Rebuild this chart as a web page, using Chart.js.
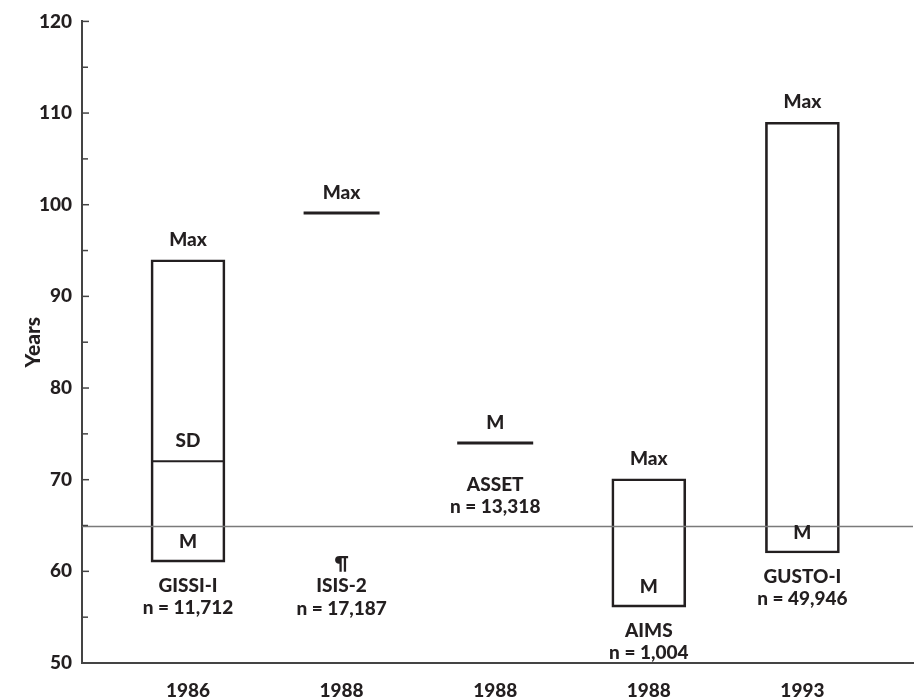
<!DOCTYPE html>
<html>
<head>
<meta charset="utf-8">
<script src="https://cdn.jsdelivr.net/npm/chart.js@4/dist/chart.umd.min.js"></script>
<style>
  body { margin: 0; background: #fff; }
  #wrap { width: 916px; height: 699px; }
</style>
</head>
<body>
<div id="wrap"><canvas id="ageChart"></canvas></div>
<script>
// Trial data
const years = ['1986', '1988', '1988', '1988', '1993'];
const trials = ['GISSI-I', 'ISIS-2', 'ASSET', 'AIMS', 'GUSTO-I'];
const sizes = ['n = 11,712', 'n = 17,187', 'n = 13,318', 'n = 1,004', 'n = 49,946'];
const notes = ['', '¶', '', '', ''];
const maxAge = [94.0, 99.1, null, 70.1, 109.0];   // "Max"
const lowAge = [61.0, null, 74.0, 56.1, 62.0];     // "M"
const sdAge = [72.0, null, null, null, null];      // "SD"
const refAge = 64.9;
const yTicks = [50, 60, 70, 80, 90, 100, 110, 120];

const ink = '#231f20';
const font = 'Lato, "DejaVu Sans", sans-serif';
const weight = 900;

// boxes where both ends are known, plain lines where only one is
const boxes = [];
const lines = [];
years.forEach((_, i) => {
  if (maxAge[i] != null && lowAge[i] != null) {
    boxes.push({ x: i, y: [lowAge[i], maxAge[i]] });
  } else if (maxAge[i] != null) {
    lines.push({ x: i, y: maxAge[i] });
  } else if (lowAge[i] != null) {
    lines.push({ x: i, y: lowAge[i] });
  }
});
const sdLines = [];
sdAge.forEach((v, i) => { if (v != null) sdLines.push({ x: i, y: v }); });

// reference line, inward tick marks and the text labels
const extras = {
  id: 'extras',
  afterDatasetsDraw(chart) {
    const { ctx, chartArea, scales: { x, y } } = chart;
    ctx.save();

    ctx.strokeStyle = '#7a7a7a';
    ctx.lineWidth = 1.5;
    const ry = y.getPixelForValue(refAge);
    ctx.beginPath();
    ctx.moveTo(chartArea.left, ry);
    ctx.lineTo(chartArea.right, ry);
    ctx.stroke();

    ctx.strokeStyle = '#444';
    ctx.lineWidth = 1.5;
    y.ticks.forEach(t => {
      const py = y.getPixelForValue(t.value);
      const len = t.value % 10 === 0 ? 7 : 6;
      ctx.beginPath();
      ctx.moveTo(chartArea.left, py);
      ctx.lineTo(chartArea.left + len, py);
      ctx.stroke();
    });

    ctx.fillStyle = ink;
    ctx.font = weight + ' 19px ' + font;
    ctx.textAlign = 'center';
    ctx.textBaseline = 'middle';
    years.forEach((_, i) => {
      const cx = x.getPixelForValue(i);
      if (maxAge[i] != null) {
        ctx.fillText('Max', cx, y.getPixelForValue(maxAge[i]) - 20);
      }
      if (sdAge[i] != null) {
        ctx.fillText('SD', cx, y.getPixelForValue(sdAge[i]) - 20);
      }
      if (lowAge[i] != null) {
        const py = y.getPixelForValue(lowAge[i]);
        ctx.fillText('M', cx, py - 20);
        const gap = maxAge[i] != null ? 24 : 42;
        ctx.fillText(trials[i], cx, py + gap);
        ctx.fillText(sizes[i], cx, py + gap + 22);
      } else {
        ctx.fillText(notes[i], cx, ry + 37);
        ctx.fillText(trials[i], cx, ry + 59);
        ctx.fillText(sizes[i], cx, ry + 82);
      }
    });
    ctx.restore();
  }
};

new Chart(document.getElementById('ageChart'), {
  type: 'bar',
  data: {
    datasets: [
      {
        data: boxes,
        backgroundColor: 'rgba(0,0,0,0)',
        borderColor: ink,
        borderWidth: 2,
        borderSkipped: false,
        barThickness: 74
      },
      {
        type: 'scatter',
        data: lines,
        pointStyle: 'line',
        radius: 38,
        borderWidth: 3,
        borderColor: ink,
        clip: false
      },
      {
        type: 'scatter',
        data: sdLines,
        pointStyle: 'line',
        radius: 36.5,
        borderWidth: 2,
        borderColor: ink,
        clip: false
      }
    ]
  },
  options: {
    responsive: true,
    maintainAspectRatio: false,
    animation: false,
    layout: { autoPadding: false, padding: { top: 16, right: 3, left: 0, bottom: 0 } },
    plugins: { legend: { display: false }, tooltip: { enabled: false } },
    scales: {
      x: {
        type: 'linear',
        offset: false,
        min: -0.69,
        max: 4.72,
        afterBuildTicks: scale => { scale.ticks = years.map((_, i) => ({ value: i })); },
        afterFit: scale => { scale.height = 36; },
        grid: { display: true, offset: false, drawOnChartArea: false, drawTicks: false },
        border: { display: true, color: '#444', width: 2 },
        ticks: {
          padding: 16,
          color: ink,
          font: { family: font, size: 19, weight: weight },
          callback: (v, i) => years[i]
        }
      },
      y: {
        min: 50,
        max: 120,
        afterBuildTicks: scale => {
          const all = [];
          yTicks.forEach(v => { all.push({ value: v }); if (v < 120) all.push({ value: v + 5 }); });
          scale.ticks = all;
        },
        afterFit: scale => { scale.width = 82; },
        grid: { display: true, drawOnChartArea: false, drawTicks: false },
        border: { display: true, color: '#444', width: 2 },
        title: {
          display: true,
          text: 'Years',
          color: ink,
          font: { family: font, size: 21, weight: weight },
          padding: { top: 21, bottom: 0 }
        },
        ticks: {
          padding: 10,
          color: ink,
          font: { family: font, size: 19, weight: weight },
          autoSkip: false,
          callback: v => (yTicks.includes(v) ? v : '')
        }
      }
    }
  },
  plugins: [extras]
});
</script>
</body>
</html>
